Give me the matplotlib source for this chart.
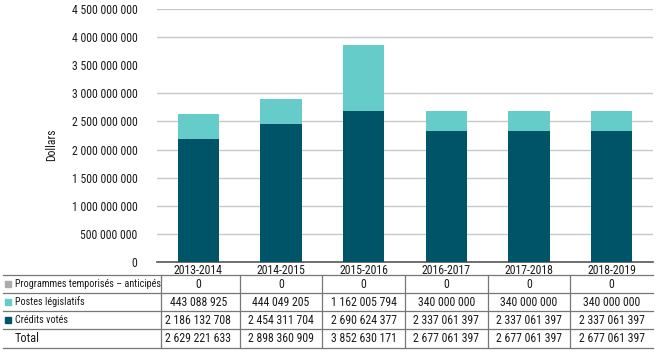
import matplotlib
matplotlib.use("Agg")
import matplotlib.pyplot as plt
from matplotlib.lines import Line2D
from matplotlib.patches import Rectangle

plt.rcParams["font.family"] = ["Roboto Condensed", "DejaVu Sans"]

years = ["2013-2014", "2014-2015", "2015-2016", "2016-2017", "2017-2018", "2018-2019"]
programmes = [0, 0, 0, 0, 0, 0]
postes = [443088925, 444049205, 1162005794, 340000000, 340000000, 340000000]
credits = [2186132708, 2454311704, 2690624377, 2337061397, 2337061397, 2337061397]
totals = [2629221633, 2898360909, 3852630171, 2677061397, 2677061397, 2677061397]
row_labels = ["Programmes temporisés – anticipés", "Postes législatifs", "Crédits votés", "Total"]
yticks = [0, 500000000, 1000000000, 1500000000, 2000000000, 2500000000,
          3000000000, 3500000000, 4000000000, 4500000000]

DARK = "#005468"
LIGHT = "#66CCC9"
GRAY = "#ABABAB"
TXT = "#1A1A1A"
FS = 8.5

W, H = 658, 354
fig = plt.figure(figsize=(W / 100, H / 100), dpi=100)
ax_l, ax_r, ax_t, ax_b = 157, 653, 9, 262
ax = fig.add_axes([ax_l / W, 1 - ax_b / H, (ax_r - ax_l) / W, (ax_b - ax_t) / H])

x = list(range(len(years)))
ax.bar(x, credits, width=0.5, color=DARK, zorder=3)
ax.bar(x, postes, width=0.5, bottom=credits, color=LIGHT, zorder=3)
ax.bar(x, programmes, width=0.5, bottom=totals, color=GRAY, zorder=3)

ax.set_xlim(-0.5, len(years) - 0.5)
ax.set_ylim(0, 4500000000)
ax.set_yticks(yticks)
ax.set_yticklabels([f"{v:,}".replace(",", " ") for v in yticks], fontsize=FS, color=TXT)
ax.tick_params(axis="y", length=0, pad=14)
for v in yticks[1:]:
    if v == 3500000000:
        continue
    ax.axhline(v, color="#C8C8C8", lw=1.0, zorder=1)
ax.set_xticks(x)
ax.set_xticklabels(years, fontsize=FS, color=TXT)
ax.tick_params(axis="x", length=0, pad=1.5)
for s in ["top", "right", "left"]:
    ax.spines[s].set_visible(False)
ax.spines["bottom"].set_color("#555555")
ax.spines["bottom"].set_linewidth(1.2)
ax.set_ylabel("Dollars", fontsize=FS, color=TXT)
ax.yaxis.set_label_coords((58 - ax_l) / (ax_r - ax_l), (ax_b - 145) / (ax_b - ax_t))

def fx(px):
    return px / W

def fy(py):
    return 1 - py / H

row_lines = [275, 293, 311, 329, 348]
for yy in row_lines:
    fig.add_artist(Line2D([fx(3), fx(653)], [fy(yy), fy(yy)], color="#777777", lw=0.9))
col_w = (ax_r - ax_l) / len(years)
for k in range(len(years)):
    xb = ax_l + col_w * k + (4 if k == 0 else 0)
    fig.add_artist(Line2D([fx(xb), fx(xb)], [fy(275), fy(348)], color="#777777", lw=0.9))

rows = [programmes, postes, credits, totals]
markers = [GRAY, LIGHT, DARK, None]
for r, (lab, vals, mc) in enumerate(zip(row_labels, rows, markers)):
    yc = (row_lines[r] + row_lines[r + 1]) / 2
    if mc is not None:
        fig.add_artist(Rectangle((fx(5), fy(yc + 3)), 6 / W, 6 / H, color=mc,
                                 transform=fig.transFigure))
        fig.text(fx(15), fy(yc), lab, fontsize=7.3, va="center", ha="left", color=TXT)
    else:
        fig.text(fx(15), fy(yc), lab, fontsize=8.8, va="center", ha="left", color=TXT)
    for k, v in enumerate(vals):
        xc = ax_l + col_w * (k + 0.5)
        fig.text(fx(xc), fy(yc), f"{v:,}".replace(",", " "), fontsize=FS,
                 va="center", ha="center", color=TXT)

fig.savefig("out.png", dpi=100)
